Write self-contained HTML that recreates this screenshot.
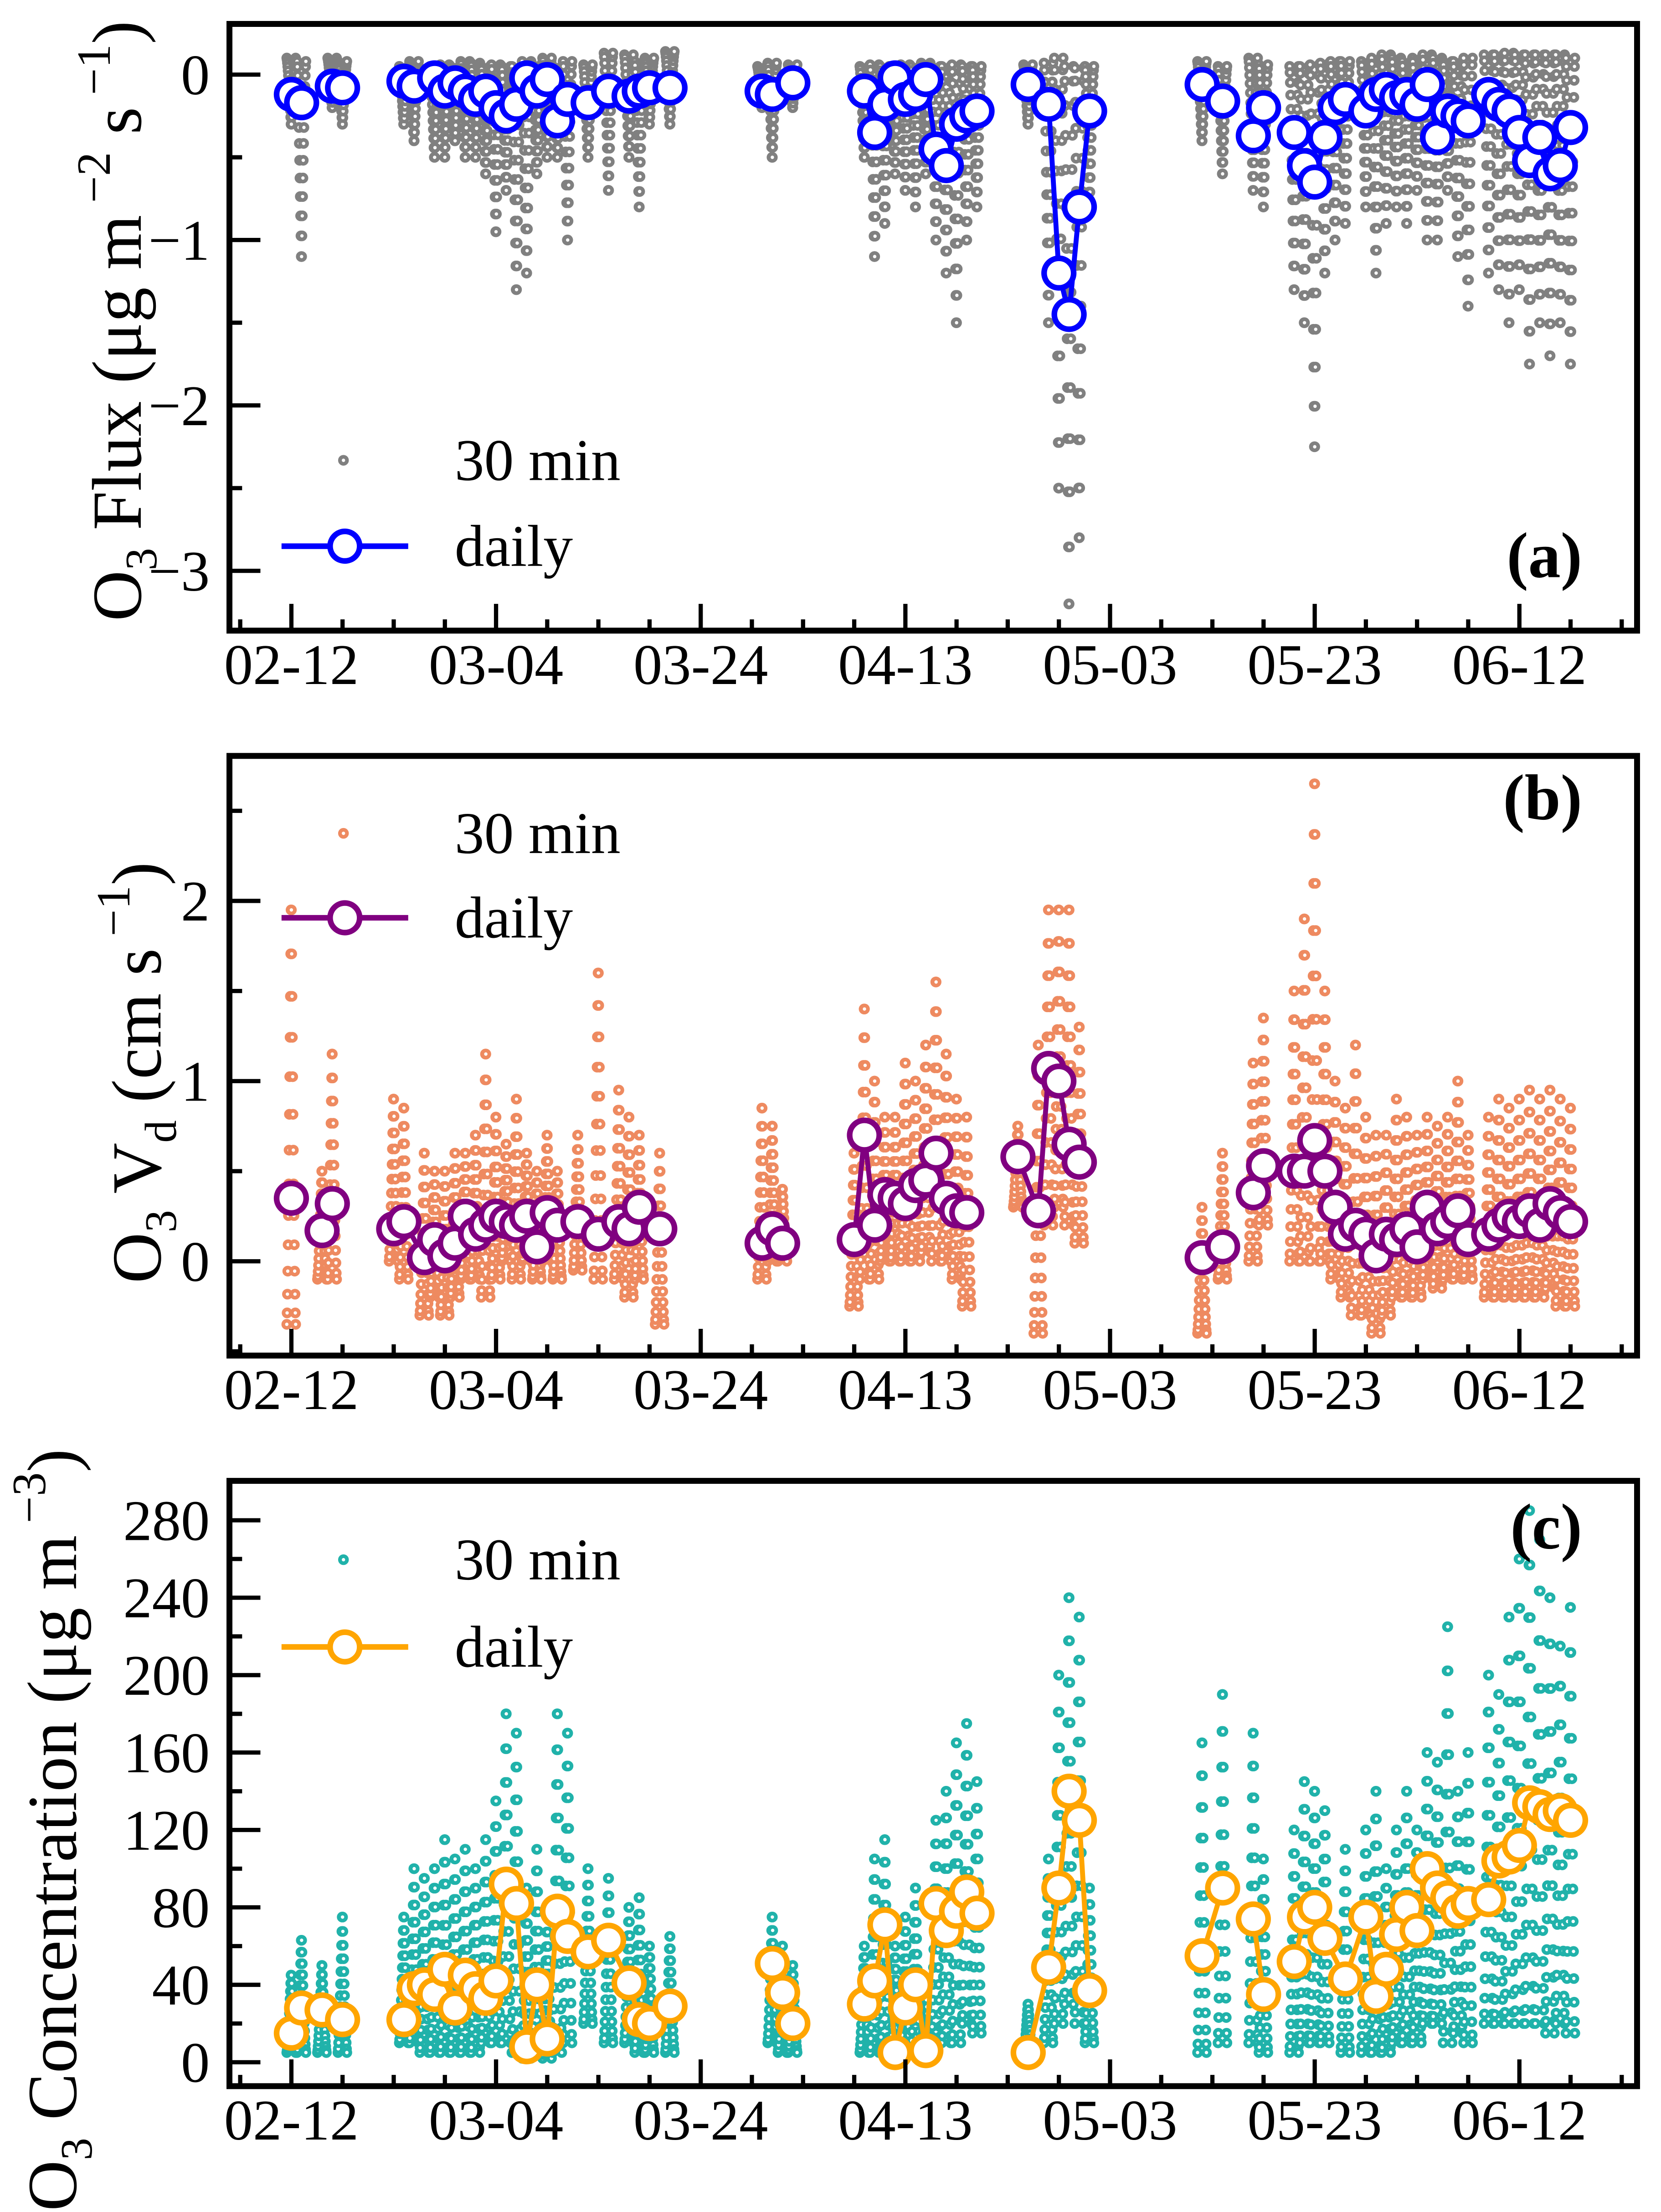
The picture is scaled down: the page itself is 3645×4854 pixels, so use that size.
<!DOCTYPE html>
<html><head><meta charset="utf-8"><title>O3 flux, Vd and concentration</title>
<style>html,body{margin:0;padding:0;background:#fff}svg{display:block}</style></head>
<body>
<svg id="chart" xmlns="http://www.w3.org/2000/svg" width="3645" height="4854" viewBox="0 0 1180 1571.4" font-family="'Liberation Serif', serif">
<rect width="1180" height="1571.4" fill="#fff"/>
<g id="scat"></g><g id="daily"></g><g id="axes"></g>
</svg>
<script>
// ----- x axis (days since 02-12) -----
const xTickLabels = ["02-12","03-04","03-24","04-13","05-03","05-23","06-12"];
const xTickDays = [0,20,40,60,80,100,120];

// ----- panel (a) flux -----
const aDays = [0,1,4,5,11,12,14,15,16,17,18,19,20,21,22,23,24,25,26,27,29,31,33,34,35,37,46,47,49,56,57,58,59,60,61,62,63,64,65,66,67,72,74,75,76,77,78,89,91,94,95,98,99,100,101,102,103,105,106,107,108,109,110,111,112,113,114,115,117,118,119,120,121,122,123,124,125];
const aDaily = [-0.12,-0.17,-0.07,-0.08,-0.04,-0.07,-0.02,-0.1,-0.05,-0.1,-0.15,-0.1,-0.2,-0.25,-0.18,-0.02,-0.1,-0.03,-0.28,-0.15,-0.17,-0.1,-0.13,-0.1,-0.08,-0.08,-0.1,-0.12,-0.05,-0.1,-0.35,-0.18,-0.02,-0.15,-0.12,-0.03,-0.45,-0.55,-0.3,-0.25,-0.22,-0.06,-0.18,-1.2,-1.45,-0.8,-0.22,-0.06,-0.16,-0.37,-0.2,-0.35,-0.55,-0.65,-0.38,-0.2,-0.15,-0.22,-0.12,-0.09,-0.14,-0.12,-0.18,-0.06,-0.38,-0.22,-0.25,-0.28,-0.12,-0.18,-0.22,-0.35,-0.52,-0.38,-0.6,-0.55,-0.32];
const aLow = [-0.3,-1.1,-0.2,-0.3,-0.3,-0.4,-0.5,-0.5,-0.4,-0.5,-0.5,-0.6,-0.95,-0.7,-1.3,-1.2,-0.6,-0.5,-0.5,-1.0,-0.5,-0.7,-0.5,-0.8,-0.3,-0.3,-0.2,-0.5,-0.2,-0.5,-1.1,-0.9,-0.6,-0.7,-0.8,-0.6,-1.0,-1.2,-1.5,-1.0,-0.8,-0.3,-1.5,-2.5,-3.2,-2.8,-0.8,-0.4,-0.6,-0.7,-0.8,-1.3,-1.5,-2.25,-1.2,-1.0,-0.9,-0.8,-1.2,-0.9,-0.8,-0.9,-0.7,-1.0,-1.0,-0.7,-1.1,-1.4,-1.2,-1.3,-1.5,-1.3,-1.75,-1.5,-1.7,-1.5,-1.75];
const aHigh = [0.1,0.08,0.1,0.08,0.05,0.08,0.05,0.06,0.05,0.08,0.07,0.05,0.06,0.05,0.05,0.08,0.06,0.1,0.05,0.08,0.06,0.13,0.12,0.08,0.1,0.14,0.05,0.07,0.06,0.05,0.06,0.05,0.05,0.06,0.05,0.07,0.05,0.05,0.06,0.05,0.05,0.06,0.07,0.1,0.05,0.04,0.05,0.08,0.05,0.1,0.06,0.05,0.05,0.06,0.07,0.08,0.08,0.08,0.1,0.12,0.1,0.08,0.1,0.12,0.1,0.08,0.08,0.1,0.12,0.12,0.13,0.12,0.12,0.12,0.12,0.12,0.1];

// ----- panel (b) deposition velocity -----
const bDays = [0,3,4,10,11,13,14,15,16,17,18,19,20,21,22,23,24,25,26,28,30,32,33,34,36,46,47,48,55,56,57,58,59,60,61,62,63,64,65,66,71,73,74,75,76,77,89,91,94,95,98,99,100,101,102,103,104,105,106,107,108,109,110,111,112,113,114,115,117,118,119,120,121,122,123,124,125];
const bDaily = [0.35,0.17,0.32,0.18,0.22,0.02,0.12,0.03,0.1,0.25,0.15,0.2,0.25,0.22,0.2,0.25,0.08,0.27,0.2,0.22,0.15,0.22,0.18,0.3,0.18,0.1,0.18,0.1,0.12,0.7,0.2,0.37,0.35,0.32,0.42,0.45,0.6,0.35,0.28,0.27,0.58,0.28,1.07,1.0,0.65,0.55,0.02,0.08,0.38,0.53,0.5,0.5,0.67,0.5,0.3,0.15,0.2,0.15,0.03,0.15,0.12,0.18,0.08,0.3,0.18,0.22,0.28,0.12,0.15,0.2,0.25,0.22,0.28,0.2,0.32,0.27,0.22];
const bLow = [-0.35,-0.1,-0.1,0,-0.1,-0.3,-0.2,-0.3,-0.2,-0.1,-0.1,-0.2,-0.1,0,-0.1,0,-0.1,0,-0.1,-0.05,-0.1,-0.1,-0.2,-0.1,-0.35,-0.1,0,0,-0.25,-0.1,-0.1,0,0,0,0,0.05,0,0,-0.1,-0.25,0.3,-0.4,0.2,0.3,0.2,0.1,-0.4,-0.1,0,0.2,0,0,0,0,-0.1,-0.2,-0.3,-0.3,-0.4,-0.3,-0.2,-0.2,-0.2,-0.1,-0.15,-0.1,-0.1,-0.1,-0.2,-0.2,-0.2,-0.2,-0.2,-0.2,-0.15,-0.25,-0.25];
const bHigh = [1.95,0.5,1.15,0.9,0.85,0.6,0.5,0.5,0.6,0.6,0.7,1.15,0.8,0.65,0.9,0.6,0.5,0.7,0.5,0.7,1.6,0.95,0.8,0.7,0.6,0.85,0.75,0.4,0.6,1.4,1.0,0.8,0.8,1.1,1.0,1.2,1.55,1.15,0.9,0.8,0.75,1.2,1.95,1.95,1.95,1.3,0.3,0.6,1.1,1.35,1.5,1.9,2.65,1.5,1.0,0.85,1.2,0.8,0.7,0.7,0.9,0.8,0.7,0.8,0.75,0.8,1.0,0.7,0.8,0.9,0.85,0.9,0.95,0.9,0.95,0.9,0.85];

// ----- panel (c) concentration -----
const cDays = [0,1,3,5,11,12,13,14,15,16,17,18,19,20,21,22,23,24,25,26,27,29,31,33,34,35,37,47,48,49,56,57,58,59,60,61,62,63,64,65,66,67,72,74,75,76,77,78,89,91,94,95,98,99,100,101,103,105,106,107,108,109,110,111,112,113,114,115,117,118,119,120,121,122,123,124,125];
const cDaily = [15,28,27,22,22,38,40,35,48,28,45,38,33,42,92,82,8,40,12,78,65,57,63,41,22,20,29,51,36,20,30,42,71,5,28,40,6,82,68,78,88,77,5,49,90,140,125,37,55,90,74,35,52,75,80,64,43,75,34,48,66,80,68,100,90,85,78,82,84,104,106,112,134,132,128,130,125];
const cLow = [5,5,5,5,10,10,5,5,5,5,5,5,10,10,10,5,2,5,2,5,10,20,10,10,5,5,5,10,5,5,5,5,5,3,5,5,3,10,10,10,20,15,3,10,20,30,20,10,5,10,10,5,5,10,10,10,5,5,5,5,10,10,10,20,20,10,15,10,20,20,20,20,20,20,15,20,15];
const cHigh = [45,63,50,75,75,100,95,100,115,105,110,100,115,135,180,170,90,110,75,180,170,100,95,80,85,60,65,75,60,50,60,105,115,60,75,90,40,125,140,165,175,145,30,105,200,240,230,90,165,190,170,105,120,145,140,130,110,120,140,100,120,140,120,160,155,225,140,160,200,190,230,260,285,270,240,215,235];

// ----- layout (viewBox units) -----
const X0 = 207, XS = 7.27, FL = 163, FR = 1163;
function xs(d){ return X0 + d*XS; }
const panels = [
 {key:"a", top:17, bot:448, y0:53, ys:117.5, ticks:[0,-1,-2,-3], minor:0.5, tickFmt:v=>v<0?"\u2212"+(-v):String(v),
  days:aDays, daily:aDaily, low:aLow, high:aHigh, scol:"#808080", dcol:"#0000ff", mode:"flux",
  legY:[327,388], label:"(a)", labY:410},
 {key:"b", top:537, bot:963, y0:896, ys:128, ticks:[0,1,2], minor:0.5, tickFmt:v=>String(v),
  days:bDays, daily:bDaily, low:bLow, high:bHigh, scol:"#ee8a60", dcol:"#800080", mode:"up",
  legY:[592,652], label:"(b)", labY:582},
 {key:"c", top:1052, bot:1482, y0:1465, ys:1.375, ticks:[0,40,80,120,160,200,240,280], minor:20, tickFmt:v=>String(v),
  days:cDays, daily:cDaily, low:cLow, high:cHigh, scol:"#20b2aa", dcol:"#ffa500", mode:"up",
  legY:[1108,1170], label:"(c)", labY:1100}
];
const NS = "http://www.w3.org/2000/svg";
function mk(tag, attrs, parent){ const e=document.createElementNS(NS,tag); for(const k in attrs) e.setAttribute(k,attrs[k]); parent.appendChild(e); return e; }
const gS = document.getElementById('scat'), gD = document.getElementById('daily'), gA = document.getElementById('axes');
const NPT = 28;

panels.forEach(p=>{
  const ym = v => p.y0 - v*p.ys;
  const vTop = (p.y0-p.top)/p.ys, vBot = (p.y0-p.bot)/p.ys;
  const clip = mk('clipPath',{id:'clip-'+p.key},gS);
  mk('rect',{x:FL,y:p.top,width:FR-FL,height:p.bot-p.top},clip);
  const sg = mk('g',{'clip-path':'url(#clip-'+p.key+')'},gS);
  
  
  for(let i=0;i<p.days.length;i++){
    const lo=p.low[i], hi=p.high[i];
    const half = NPT/2;
    for(let h=0;h<NPT;h++){
      let f = h<half ? h/(half-1) : (NPT-1-h)/(half-1);
      f = Math.pow(f,1.4);
      const v = p.mode==="flux" ? hi + (lo-hi)*f : lo + (hi-lo)*f;
      const c = mk('circle',{cx:xs(p.days[i]-0.45+0.9*h/NPT),cy:ym(v),r:2.5,fill:'#fff',stroke:p.scol,'stroke-width':2.6},sg);
      
      
    }
  }
  const dg = mk('g',{},gD);
  
  
  for(let i=1;i<p.days.length;i++){
    if(p.days[i]-p.days[i-1]<=2){
      mk('line',{x1:xs(p.days[i-1]),y1:ym(p.daily[i-1]),x2:xs(p.days[i]),y2:ym(p.daily[i]),stroke:p.dcol,'stroke-width':3.5},dg);
    }
  }
  for(let i=0;i<p.days.length;i++){
    const c = mk('circle',{cx:xs(p.days[i]),cy:ym(p.daily[i]),r:10.5,fill:'#fff',stroke:p.dcol,'stroke-width':4},dg);
    
    
  }
  const ax = mk('g',{},gA);
  
  
  mk('rect',{x:FL,y:p.top,width:FR-FL,height:p.bot-p.top,fill:'none',stroke:'#000','stroke-width':4.2},ax);
  const m0 = Math.ceil(vBot/p.minor)*p.minor;
  for(let v=m0; v<=vTop+1e-9; v+=p.minor){
    const isMaj = p.ticks.some(t=>Math.abs(t-v)<1e-6);
    mk('line',{x1:FL,x2:FL+(isMaj?22:9),y1:ym(v),y2:ym(v),stroke:'#000','stroke-width':3},ax);
  }
  p.ticks.forEach(t=>{
    const tx = mk('text',{x:FL-14,y:ym(t)+14,'text-anchor':'end','font-size':41},ax);
    tx.textContent = p.tickFmt(t);
    
    
  });
  for(let d=-5; d<=130; d+=5){
    const isMaj = d%20===0;
    mk('line',{x1:xs(d),x2:xs(d),y1:p.bot,y2:p.bot-(isMaj?19:8),stroke:'#000','stroke-width':3},ax);
  }
  xTickDays.forEach((d,i)=>{
    const tx = mk('text',{x:xs(d),y:p.bot+38,'text-anchor':'middle','font-size':41},ax);
    tx.textContent = xTickLabels[i];
    
    
  });
  const lg = mk('g',{},ax);
  
  
  mk('circle',{cx:244,cy:p.legY[0],r:2.5,fill:'#fff',stroke:p.scol,'stroke-width':2.6},lg);
  const t1 = mk('text',{x:323,y:p.legY[0]+14,'font-size':42},lg); t1.textContent="30 min";
  mk('line',{x1:200,x2:290,y1:p.legY[1],y2:p.legY[1],stroke:p.dcol,'stroke-width':4},lg);
  mk('circle',{cx:245,cy:p.legY[1],r:10.5,fill:'#fff',stroke:p.dcol,'stroke-width':4},lg);
  const t2 = mk('text',{x:323,y:p.legY[1]+14,'font-size':42},lg); t2.textContent="daily";
  const pl = mk('text',{x:1124,y:p.labY,'text-anchor':'end','font-size':46,'font-weight':'bold'},ax);
  pl.textContent = p.label;
  
  
});
</script>
<script>
(function(){
  const svg = document.getElementById('chart');
  const NS="http://www.w3.org/2000/svg";
  function lab(x,y,html,name){
    const t=document.createElementNS(NS,'text');
    t.setAttribute('transform','translate('+x+','+y+') rotate(-90)');
    t.setAttribute('text-anchor','middle');
    t.setAttribute('font-size','50');
    
    
    t.innerHTML=html; svg.appendChild(t);
  }
  lab(100,228,'O<tspan font-size="32" dy="11">3</tspan><tspan dy="-11"> Flux (μg m</tspan><tspan font-size="34" dy="-22"> \u22122</tspan><tspan dy="22"> s</tspan><tspan font-size="34" dy="-22"> \u22121</tspan><tspan dy="22">)</tspan>','y-axis-title-flux');
  lab(114,762,'O<tspan font-size="32" dy="11">3</tspan><tspan dy="-11"> V</tspan><tspan font-size="32" dy="11">d</tspan><tspan dy="-11"> (cm s</tspan><tspan font-size="34" dy="-22"> \u22121</tspan><tspan dy="22">)</tspan>','y-axis-title-vd');
  lab(54,1300,'O<tspan font-size="32" dy="11">3</tspan><tspan dy="-11"> Concentration (μg m</tspan><tspan font-size="34" dy="-22"> \u22123</tspan><tspan dy="22">)</tspan>','y-axis-title-concentration');
})();
</script>
</body></html>
